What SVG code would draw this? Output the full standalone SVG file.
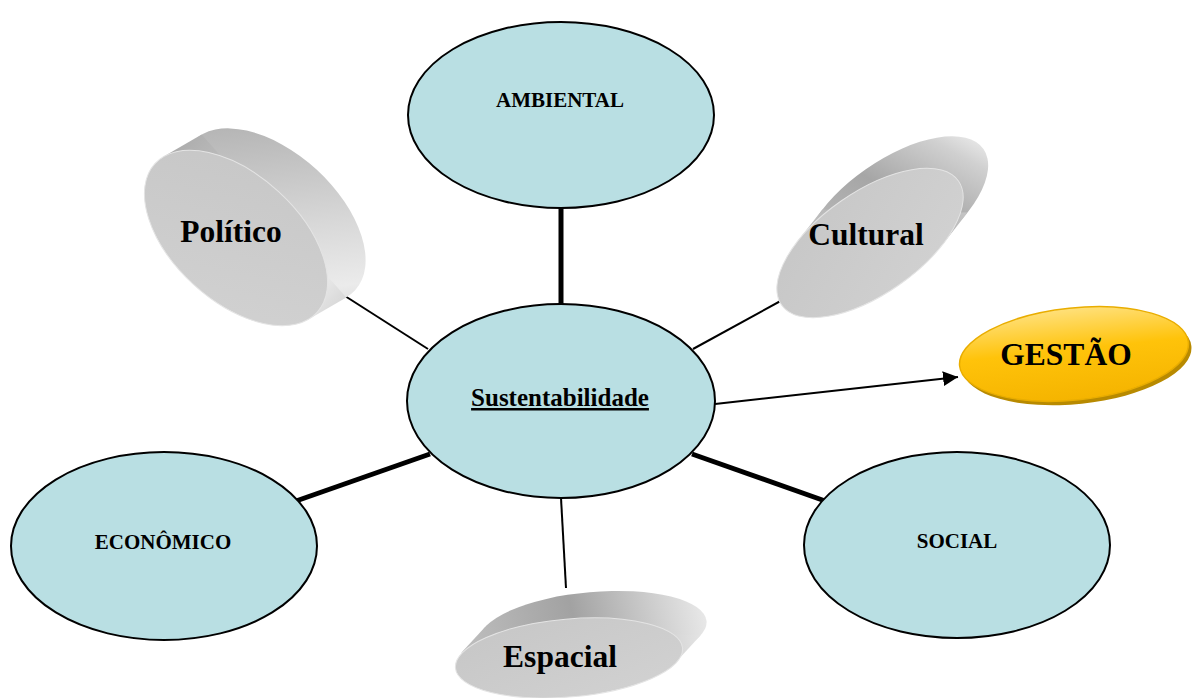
<svg xmlns="http://www.w3.org/2000/svg" width="1198" height="698" viewBox="0 0 1198 698">
  <defs>
    <style>
      .node { fill: #b9dfe3; stroke: #000; stroke-width: 2; }
      .small { font-family: "Liberation Serif", "Times New Roman", serif; font-weight: bold; font-size: 21px; text-anchor: middle; fill: #000; }
      .big { font-family: "Liberation Serif", "Times New Roman", serif; font-weight: bold; font-size: 31.5px; text-anchor: middle; fill: #000; }
      .thick { stroke: #000; stroke-width: 5; fill: none; }
      .thin { stroke: #000; stroke-width: 2; fill: none; }
      .face { stroke: #e4e4e4; stroke-width: 1; }
    </style>
    <linearGradient id="sidePol" gradientUnits="userSpaceOnUse" x1="170" y1="140" x2="360" y2="310">
      <stop offset="0" stop-color="#aaaaaa"/>
      <stop offset="0.55" stop-color="#d8d8d8"/>
      <stop offset="0.8" stop-color="#ebebeb"/>
      <stop offset="1" stop-color="#cdcdcd"/>
    </linearGradient>
    <linearGradient id="sideCul" gradientUnits="userSpaceOnUse" x1="820" y1="230" x2="985" y2="150">
      <stop offset="0" stop-color="#bdbdbd"/>
      <stop offset="0.5" stop-color="#a6a6a6"/>
      <stop offset="0.85" stop-color="#d0d0d0"/>
      <stop offset="1" stop-color="#ececec"/>
    </linearGradient>
    <linearGradient id="sideEsp" gradientUnits="userSpaceOnUse" x1="470" y1="640" x2="705" y2="610">
      <stop offset="0" stop-color="#bcbcbc"/>
      <stop offset="0.45" stop-color="#a2a2a2"/>
      <stop offset="0.8" stop-color="#cfcfcf"/>
      <stop offset="1" stop-color="#e8e8e8"/>
    </linearGradient>
    <linearGradient id="faceGrad" x1="0" y1="0" x2="1" y2="1">
      <stop offset="0" stop-color="#c6c6c6"/>
      <stop offset="1" stop-color="#d2d2d2"/>
    </linearGradient>
    <linearGradient id="gold" x1="0" y1="0" x2="0" y2="1">
      <stop offset="0" stop-color="#ffe07a"/>
      <stop offset="0.45" stop-color="#ffc30a"/>
      <stop offset="1" stop-color="#f5b400"/>
    </linearGradient>
    <marker id="arrow" viewBox="0 0 10 10" refX="10" refY="5" markerWidth="7.5" markerHeight="7.5" markerUnits="strokeWidth" orient="auto">
      <path d="M0,0 L10,5 L0,10 z" fill="#000"/>
    </marker>
  </defs>

  <rect width="1198" height="698" fill="#fff"/>

  <g id="connectors">
    <line class="thick" x1="561" y1="207" x2="561" y2="306" stroke-width="4.5"/>
    <line class="thick" x1="296" y1="501" x2="430" y2="454"/>
    <line class="thick" x1="692" y1="454" x2="828" y2="502"/>
    <line class="thin" x1="561" y1="498" x2="566" y2="588"/>
    <line class="thin" x1="345" y1="296" x2="428" y2="349"/>
    <line class="thin" x1="693" y1="349" x2="786" y2="298"/>
    <line class="thin" x1="715" y1="404" x2="958" y2="377" marker-end="url(#arrow)"/>
  </g>

  <g id="node-ambiental">
    <ellipse class="node" cx="561" cy="115" rx="153" ry="93"/>
    <text class="small" x="560" y="107">AMBIENTAL</text>
  </g>

  <g id="node-politico">
    <ellipse cx="274" cy="216" rx="110" ry="63" transform="rotate(42.5 274 216)" fill="url(#sidePol)"/>
    <polygon points="308.3,319.4 163.7,156.6 201.7,134.6 346.3,297.4" fill="url(#sidePol)"/>
    <ellipse class="face" cx="236" cy="238" rx="110" ry="63" transform="rotate(42.5 236 238)" fill="url(#faceGrad)"/>
    <text class="big" x="231" y="242">Político</text>
  </g>

  <g id="node-cultural">
    <ellipse cx="895" cy="211" rx="108" ry="51" transform="rotate(-35 895 211)" fill="url(#sideCul)"/>
    <polygon points="942.6,244.4 797.4,241.6 822.4,209.6 967.6,212.4" fill="url(#sideCul)"/>
    <ellipse class="face" cx="870" cy="243" rx="108" ry="51" transform="rotate(-35 870 243)" fill="url(#faceGrad)"/>
    <text class="big" x="866" y="245">Cultural</text>
  </g>

  <g id="node-gestao">
    <ellipse cx="1077" cy="358" rx="115" ry="46" transform="rotate(-6 1077 358)" fill="#b88a00"/>
    <ellipse cx="1074" cy="354" rx="115" ry="46" transform="rotate(-6 1074 354)" fill="url(#gold)" stroke="#e9ad00" stroke-width="1.5"/>
    <text class="big" x="1066" y="365">GESTÃO</text>
  </g>

  <g id="node-sustentabilidade">
    <ellipse class="node" cx="561" cy="401" rx="154" ry="97"/>
    <text class="small" x="560" y="406" style="font-size:25px" text-decoration="underline">Sustentabilidade</text>
  </g>

  <g id="node-economico">
    <ellipse class="node" cx="164" cy="546" rx="153" ry="94"/>
    <text class="small" x="163" y="549">ECONÔMICO</text>
  </g>

  <g id="node-social">
    <ellipse class="node" cx="957" cy="545" rx="153" ry="93"/>
    <text class="small" x="957" y="548">SOCIAL</text>
  </g>

  <g id="node-espacial">
    <ellipse cx="593" cy="631" rx="114" ry="39" transform="rotate(-5 593 631)" fill="url(#sideEsp)"/>
    <polygon points="676.7,661.2 461.3,652.8 485.3,626.8 700.7,635.2" fill="url(#sideEsp)"/>
    <ellipse class="face" cx="569" cy="658" rx="114" ry="39" transform="rotate(-5 569 658)" fill="url(#faceGrad)"/>
    <text class="big" x="560" y="667">Espacial</text>
  </g>
</svg>
